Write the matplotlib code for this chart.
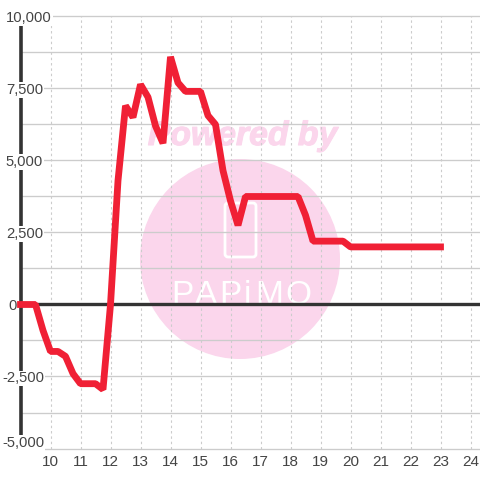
import matplotlib
matplotlib.use("Agg")
import matplotlib.pyplot as plt
import matplotlib.patheffects as pe
from matplotlib.patches import Circle, FancyBboxPatch
from matplotlib.transforms import ScaledTranslation

hours = [9, 9.25, 9.5, 9.75, 10, 10.25, 10.5, 10.75, 11, 11.25, 11.5, 11.75,
         12, 12.25, 12.5, 12.75, 13, 13.25, 13.5, 13.75, 14, 14.25, 14.5, 14.75,
         15, 15.25, 15.5, 15.75, 16, 16.25, 16.5, 16.75, 17, 17.25, 17.5, 17.75,
         18, 18.25, 18.5, 18.75, 19, 19.25, 19.5, 19.75, 20, 20.25, 20.5, 20.75,
         21, 21.25, 21.5, 21.75, 22, 22.25, 22.5, 22.75, 23]
values = [0, 0, 0, -900, -1630, -1630, -1800, -2400, -2750, -2750, -2750, -2950,
          0, 4300, 6900, 6500, 7640, 7200, 6200, 5600, 8600, 7700, 7400, 7400,
          7400, 6560, 6250, 4650, 3600, 2750, 3750, 3750, 3750, 3750, 3750, 3750,
          3750, 3750, 3100, 2200, 2200, 2200, 2200, 2200, 2000, 2000, 2000, 2000,
          2000, 2000, 2000, 2000, 2000, 2000, 2000, 2000, 2000]
x_ticks = list(range(10, 25))
y_grid = [-5000, -3750, -2500, -1250, 0, 1250, 2500, 3750, 5000, 6250, 7500, 8750, 10000]
y_ticks = [-5000, -2500, 0, 2500, 5000, 7500, 10000]
y_labels = ["-5,000", "-2,500", "0", "2,500", "5,000", "7,500", "10,000"]

plt.rcParams["font.family"] = ["Liberation Sans", "DejaVu Sans"]
TEXT = "#444444"
GRID = "#cccccc"
DARK = "#333333"
RED = "#f02035"
PINK = "#fbd6ec"

fig = plt.figure(figsize=(4.8, 4.8), dpi=100, facecolor="white")

# watermark layer in pixel coordinates
bg = fig.add_axes([0, 0, 1, 1], zorder=0)
bg.set_xlim(0, 480)
bg.set_ylim(480, 0)
bg.axis("off")
bg.add_patch(Circle((240, 259), 100, fc=PINK, ec="none"))
bg.text(242.5, 145, "Powered by", color=PINK, fontsize=24.3, fontweight="bold",
        fontstyle="italic", ha="center", va="baseline", family=["Liberation Sans"],
        path_effects=[pe.withStroke(linewidth=0.8, foreground=PINK)])
bg.add_patch(FancyBboxPatch((225, 203), 31, 54, boxstyle="round,pad=0,rounding_size=3",
                            fc="none", ec="white", lw=2))
for lx, ch in zip([182, 206, 230, 247, 269, 298], "PAPiMO"):
    bg.text(lx, 304, ch, color="white", fontsize=24, ha="center", va="baseline",
            family=["Liberation Sans"])

ax = fig.add_axes([20.5 / 480, 1 - 448.5 / 480, 459.5 / 480, 432 / 480], zorder=1)
ax.patch.set_visible(False)
ax.set_xlim(9, 24 + 9.5 / 30)
ax.set_ylim(-5000, 10000)
for s in ["top", "right", "bottom"]:
    ax.spines[s].set_visible(False)
ax.spines["left"].set_linewidth(2.6)
ax.spines["left"].set_color(DARK)
ax.spines["left"].set_zorder(2)

for v in y_grid:
    ax.axhline(v, color=GRID, lw=0.95, zorder=1, clip_on=False)
for h in x_ticks:
    ax.axvline(h, color=GRID, lw=0.8, ls=(0, (2.2, 2.6)), zorder=1)
ax.axhline(0, color=DARK, lw=2.4, zorder=2)

ax.plot(hours, values, color=RED, lw=4.9, zorder=5, clip_on=False,
        solid_capstyle="projecting", solid_joinstyle="bevel")

ax.yaxis.set_zorder(3)
ax.xaxis.set_zorder(3)
ax.set_xticks(x_ticks)
ax.set_yticks(y_ticks)
ax.set_yticklabels(y_labels)
ax.tick_params(axis="y", length=0, labelsize=10.6, labelcolor=TEXT, pad=10.5)
ax.tick_params(axis="x", length=0, labelsize=11, labelcolor=TEXT, pad=4.5)

offsets = {"-5,000": (-4, 7), "-2,500": (-4, -0.5), "0": (2, 0)}
for lab in ax.get_yticklabels():
    lab.set_ha("left")
    lab.set_bbox(dict(fc="white", ec="none", pad=0.6))
    dx, dy = offsets.get(lab.get_text(), (0, 0))
    lab.set_transform(lab.get_transform() +
                      ScaledTranslation(dx / 100, dy / 100, fig.dpi_scale_trans))

fig.savefig("out.png", dpi=100)
